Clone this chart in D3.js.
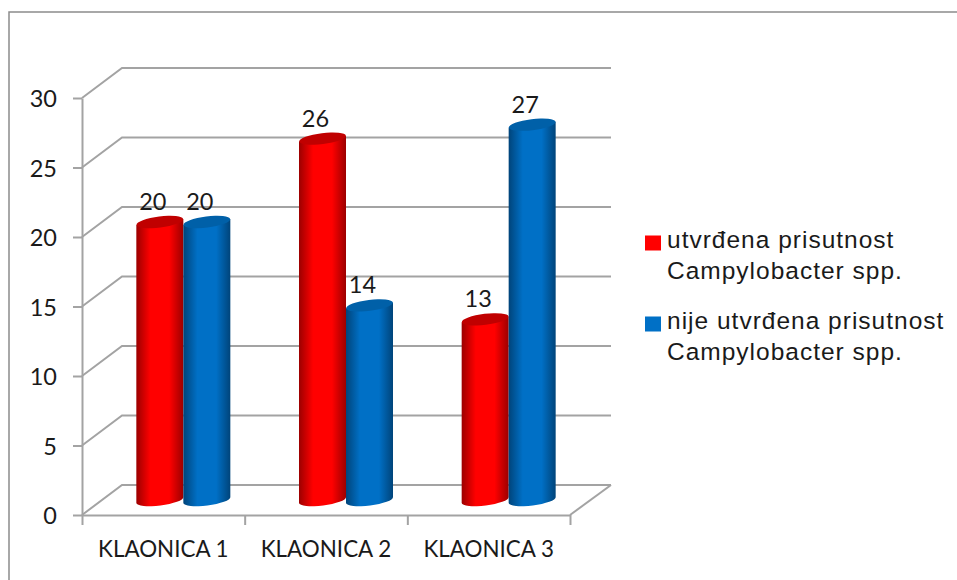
<!DOCTYPE html>
<html>
<head>
<meta charset="utf-8">
<script src="https://cdn.jsdelivr.net/npm/d3@7"></script>
<style>
  html, body { margin: 0; padding: 0; background: #fff; }
  svg { display: block; }
</style>
</head>
<body>
<div class="root"></div>
<script>
var categories = ['KLAONICA 1', 'KLAONICA 2', 'KLAONICA 3'];
var seriesNames = ['present', 'absent'];
var present = [20, 26, 13];
var absent = [20, 14, 27];
var yTicks = [0, 5, 10, 15, 20, 25, 30];
var legendLabels = [
  ['utvrđena prisutnost', 'Campylobacter spp.'],
  ['nije utvrđena prisutnost', 'Campylobacter spp.']
];

var width = 957, height = 580;
var left = 82, right = 570, floorY = 515, topY = 98;
var depthX = 40, depthY = 30;
var radiusY = 5.5, tilt = -7;

var canvas = d3.select('.root')
               .append('svg')
               .attr('width', width)
               .attr('height', height);

var x = d3.scaleBand().domain(categories).range([left, right]);
var y = d3.scaleLinear().domain([0, 30]).range([floorY, topY]);
var barWidth = 47;
var inner = d3.scaleBand().domain(seriesNames)
              .range([x.bandwidth() / 2 - barWidth, x.bandwidth() / 2 + barWidth]);

var gridColor = '#a3a3a3';

// outer frame
canvas.append('path')
      .attr('d', 'M9,580V12H957')
      .style('fill', 'none')
      .style('stroke', '#8c8c8c')
      .style('stroke-width', 1.5);

// walls
yTicks.forEach(function (t) {
  canvas.append('path')
        .attr('d', d3.line()([
          [left, y(t)],
          [left + depthX, y(t) - depthY],
          [right + depthX + 1, y(t) - depthY]
        ]))
        .style('fill', 'none')
        .style('stroke', gridColor)
        .style('stroke-width', 2);
});

canvas.append('path')
      .attr('d', d3.line()([[right, floorY], [right + depthX + 1, floorY - depthY]]))
      .style('fill', 'none')
      .style('stroke', gridColor)
      .style('stroke-width', 2);

// axes
var yAxis = canvas.append('g')
                  .attr('transform', 'translate(' + left + ',0)')
                  .call(d3.axisLeft(y).tickValues(yTicks).tickSize(9).tickSizeOuter(0).tickPadding(16));

var xTickValues = categories.map(function (c) { return x(c); }).concat([right]);
var xAxis = canvas.append('g')
                  .attr('transform', 'translate(0,' + floorY + ')')
                  .call(d3.axisBottom(d3.scaleIdentity().domain([left, right])).tickValues(xTickValues).tickSize(10).tickSizeOuter(0).tickFormat(''));

canvas.selectAll('.domain, .tick line')
      .style('stroke', gridColor)
      .style('stroke-width', 2);

yAxis.selectAll('text')
     .attr('dy', '0.38em')
     .style('font-family', 'Lato')
     .style('font-size', '23.5px')
     .style('fill', '#1a1a1a');

categories.forEach(function (c) {
  canvas.append('text')
        .attr('x', x(c) + x.bandwidth() / 2)
        .attr('y', 557)
        .attr('text-anchor', 'middle')
        .style('font-family', 'Lato')
        .style('font-size', '22.4px')
        .style('fill', '#1a1a1a')
        .text(c);
});

// bar gradients
var defs = canvas.append('defs');
function addGradient(id, edge, mid) {
  var g = defs.append('linearGradient').attr('id', id);
  [[0, edge], [0.3, mid], [0.7, mid], [1, edge]].forEach(function (s) {
    g.append('stop').attr('offset', s[0]).attr('stop-color', s[1]);
  });
}
addGradient('redBar', '#9c0000', '#ff0000');
addGradient('blueBar', '#00447a', '#0070c6');

var barStyles = [
  {name: 'present', values: present, fill: 'url(#redBar)', cap: '#c00000'},
  {name: 'absent', values: absent, fill: 'url(#blueBar)', cap: '#0060a8'}
];

var midX = depthX / 2, midY = depthY / 2;

barStyles.forEach(function (s) {
  categories.forEach(function (c, i) {
    var x0 = x(c) + inner(s.name) + midX;
    var x1 = x0 + barWidth;
    var top = y(s.values[i]) - midY;
    var base = floorY - midY;
    var rx = barWidth / 2;
    var skew = Math.tan(tilt * Math.PI / 180) * rx;

    // body
    canvas.append('path')
          .attr('d', 'M' + x0 + ',' + (top - skew) +
                     'L' + x0 + ',' + (base - skew) +
                     'A' + rx + ',' + radiusY + ' ' + tilt + ' 0 0 ' + x1 + ',' + (base + skew) +
                     'L' + x1 + ',' + (top + skew) + 'Z')
          .style('fill', s.fill);

    // top cap
    canvas.append('ellipse')
          .attr('cx', (x0 + x1) / 2)
          .attr('cy', top)
          .attr('rx', rx)
          .attr('ry', radiusY)
          .attr('transform', 'rotate(' + tilt + ' ' + ((x0 + x1) / 2) + ' ' + top + ')')
          .style('fill', s.cap);

    // value label
    canvas.append('text')
          .attr('x', (x0 + x1) / 2 - 7)
          .attr('y', y(s.values[i]) - 27)
          .attr('text-anchor', 'middle')
          .style('font-family', 'Lato')
          .style('font-size', '23.5px')
          .style('fill', '#1a1a1a')
          .text(s.values[i]);
  });
});

// legend
var legendColors = ['#ff0000', '#0070c6'];
var legendY = [248, 329];
legendLabels.forEach(function (lines, i) {
  canvas.append('rect')
        .attr('x', 645)
        .attr('y', legendY[i] - 12.5)
        .attr('width', 16)
        .attr('height', 15)
        .style('fill', legendColors[i]);
  lines.forEach(function (line, j) {
    canvas.append('text')
          .attr('x', 667)
          .attr('y', legendY[i] + j * 31)
          .style('font-family', '"Liberation Sans"')
          .style('font-size', '24.5px')
          .style('letter-spacing', '1px')
          .style('fill', '#1a1a1a')
          .text(line);
  });
});
</script>
</body>
</html>
